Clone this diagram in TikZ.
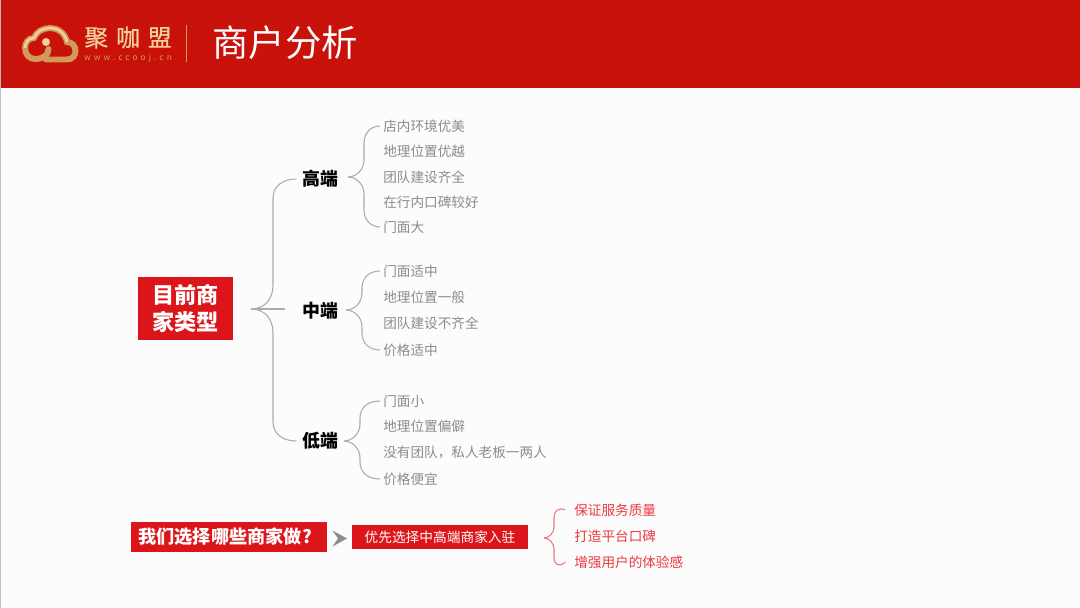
\documentclass[tikz,border=0pt]{standalone}
\usepackage{fontspec}
\setmainfont{Noto Sans CJK SC}
\definecolor{headred}{HTML}{CB120B}
\definecolor{boxred}{HTML}{DC151B}
\definecolor{leafgray}{HTML}{8C8C8C}
\definecolor{linegray}{HTML}{ABABAB}
\definecolor{softred}{HTML}{EE3A40}
\definecolor{goldA}{HTML}{F3CFA0}
\definecolor{goldB}{HTML}{D29A58}
\tikzset{
	leaf/.style={anchor=west,inner sep=1.7pt,text=leafgray,font=\fontsize{7.75pt}{9pt}\selectfont},
	redleaf/.style={leaf,inner xsep=4.8pt,text=softred},
	tier/.style={inner sep=3pt,font=\fontsize{10.2pt}{12pt}\selectfont\bfseries},
	redbox/.style={fill=boxred,text=white,inner sep=0pt},
	branch/.style={draw=linegray,line width=0.6pt},
	redbranch/.style={draw=softred!70,line width=0.6pt}
}
\begin{document}
\begin{tikzpicture}[x=0.02cm,y=0.02cm]
	\useasboundingbox (0,0) rectangle (1080,-608);
	\fill [white!99!black] (0,0) rectangle (1080,-608);
	\fill [headred] (0,0) rectangle (1080,-88);
	\fill [black!25] (0,0) rectangle (1,-608);
	% weave of the header
	\begin{scope}
		\clip (0,0) rectangle (1080,-88);
		\foreach \x in {0,4,...,1170}
			\draw [black,opacity=0.06,line width=0.4pt] (\x,0) -- (\x-88,-88);
	\end{scope}
	% logo
	\draw [goldB,line width=3.4pt,line cap=round] (46,-59.5) -- (67,-59.5)
		.. controls (73,-59.5) and (75.5,-55) .. (75.5,-51)
		.. controls (75.5,-46) and (72,-42) .. (67,-42)
		.. controls (65,-32) and (57,-28) .. (50,-28)
		.. controls (43,-28) and (36,-32) .. (34,-38)
		.. controls (28,-38) and (25,-43) .. (25,-48)
		.. controls (25,-54) and (29,-59) .. (35,-59)
		.. controls (43,-59) and (48.5,-55) .. (48.5,-49);
	\draw [goldA,line width=1.4pt] (67,-42)
		.. controls (65,-32) and (57,-28) .. (50,-28)
		.. controls (43,-28) and (36,-32) .. (34,-38)
		.. controls (28,-38) and (25,-43) .. (25,-48);
	\fill [goldA] (46,-42) circle (4);
	\node (brand) at (128,-37.5) [text=goldA,font=\fontsize{13.6pt}{16pt}\selectfont\addfontfeatures{FakeBold=0.5},inner sep=0pt] {聚\hspace{0.33em}咖\hspace{0.33em}盟};
	\node (site) at (128,-58) [text=goldB,font=\fontsize{4.8pt}{6pt}\selectfont\addfontfeatures{LetterSpace=36},inner sep=0pt] {www.ccooj.cn};
	\draw [goldB] (186,-25) -- (186,-62);
	\node (title) at (285,-43) [text=white,font=\fontsize{20.7pt}{22pt}\selectfont,inner sep=0pt] {商户分析};
	% left tree
	\node (root) at (185.5,-308.5) [redbox,minimum width=1.9cm,minimum height=1.26cm,align=center,font=\fontsize{12.6pt}{15pt}\selectfont\bfseries] {目前商\\家类型};
	\node (high) at (320,-179) [tier] {高端};
	\node (mid) at (320,-311) [tier] {中端};
	\node (low) at (320,-441) [tier] {低端};
	\node (h1) at (380,-126) [leaf] {店内环境优美};
	\node (h2) at (380,-151) [leaf] {地理位置优越};
	\node (h3) at (380,-177) [leaf] {团队建设齐全};
	\node (h4) at (380,-202) [leaf] {在行内口碑较好};
	\node (h5) at (380,-227) [leaf] {门面大};
	\node (m1) at (380,-271) [leaf] {门面适中};
	\node (m2) at (380,-297) [leaf] {地理位置一般};
	\node (m3) at (380,-323) [leaf] {团队建设不齐全};
	\node (m4) at (380,-350) [leaf] {价格适中};
	\node (l1) at (380,-401) [leaf] {门面小};
	\node (l2) at (380,-426) [leaf] {地理位置偏僻};
	\node (l3) at (380,-453) [leaf] {没有团队，私人老板一两人};
	\node (l4) at (380,-479) [leaf] {价格便宜};
	\coordinate (rootfork) at (251,-309);
	\coordinate (midstub) at (285,-309);
	\coordinate (highfork) at (348,-177);
	\coordinate (midfork) at (346,-310);
	\coordinate (lowfork) at (344,-441);
	\draw [branch] (rootfork) -- (midstub);
	\draw [branch] (rootfork) .. controls (264,-309) and (273,-300) .. (273,-285) -- (273,-198) .. controls (273,-186) and (283,-179) .. (high.west);
	\draw [branch] (rootfork) .. controls (264,-309) and (273,-318) .. (273,-333) -- (273,-422) .. controls (273,-434) and (283,-441) .. (low.west);
	\draw [branch] (highfork) .. controls (356,-177) and (364,-170) .. (364,-160) -- (364,-143) .. controls (364,-133) and (371,-126) .. (h1.west);
	\draw [branch] (highfork) .. controls (356,-177) and (364,-184) .. (364,-194) -- (364,-210) .. controls (364,-220) and (371,-227) .. (h5.west);
	\draw [branch] (midfork) .. controls (354,-310) and (362,-303) .. (362,-293) -- (362,-288) .. controls (362,-278) and (369,-271) .. (m1.west);
	\draw [branch] (midfork) .. controls (354,-310) and (362,-317) .. (362,-327) -- (362,-333) .. controls (362,-343) and (369,-350) .. (m4.west);
	\draw [branch] (lowfork) .. controls (352,-441) and (360,-434) .. (360,-424) -- (360,-418) .. controls (360,-408) and (367,-401) .. (l1.west);
	\draw [branch] (lowfork) .. controls (352,-441) and (360,-448) .. (360,-458) -- (360,-462) .. controls (360,-472) and (367,-479) .. (l4.west);
	% bottom row
	\node (ask) at (229,-537) [redbox,minimum width=3.92cm,minimum height=0.6cm,font=\fontsize{10.35pt}{12pt}\selectfont\bfseries] {我们选择哪些商家做?\kern4.5pt};
	\node (pick) at (440,-537) [redbox,minimum width=3.54cm,minimum height=0.5cm,font=\fontsize{7.8pt}{9pt}\selectfont] {优先选择中高端商家入驻};
	\fill [leafgray] (332.5,-530.5) -- (347,-538.5) -- (332.5,-546.5) -- (338,-538.5) -- cycle;
	\node (r1) at (565.5,-510) [redleaf] {保证服务质量};
	\node (r2) at (565.5,-536) [redleaf] {打造平台口碑};
	\node (r3) at (565.5,-562) [redleaf] {增强用户的体验感};
	\coordinate (redfork) at (544,-538);
	\draw [redbranch] (redfork) .. controls (549,-538) and (554,-533) .. (554,-527) -- (554,-517) .. controls (554,-511) and (559,-507) .. (r1.west);
	\draw [redbranch] (redfork) .. controls (549,-538) and (554,-543) .. (554,-549) -- (554,-558) .. controls (554,-564) and (559,-568) .. (r3.west);
\end{tikzpicture}
\end{document}
